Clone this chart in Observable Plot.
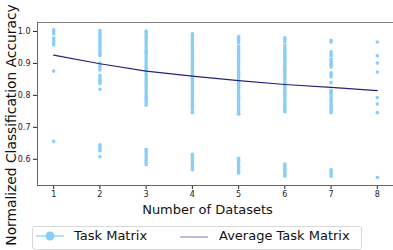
<!DOCTYPE html>
<html><head><meta charset="utf-8">
<script src="https://cdn.jsdelivr.net/npm/d3@7"></script>
<script src="https://cdn.jsdelivr.net/npm/@observablehq/plot@0.6"></script>
<style>
body{margin:0;background:#fff;font-family:"DejaVu Sans",sans-serif;}
#wrap{position:relative;width:393px;height:250px;overflow:hidden;background:#fff;}
#chart svg{display:block;}
.legend{position:absolute;left:32px;top:226px;width:330px;height:24px;border:1px solid #d9d9d9;border-radius:3px;box-sizing:border-box;background:#fff;}
.lg{position:absolute;font-size:13px;color:#111;line-height:14px;top:229px;white-space:nowrap;}
.sym{position:absolute;top:230px;}
</style></head>
<body>
<div id="wrap">
<div id="chart"></div>
<div class="legend"></div>
<svg class="sym" style="left:35px" width="30" height="12"><line x1="1" y1="6" x2="29" y2="6" stroke="#87CEFA" stroke-width="1.3"/><circle cx="15" cy="6" r="4.5" fill="#87CEFA"/></svg>
<span class="lg" id="l1" style="left:74px">Task Matrix</span>
<svg class="sym" style="left:179px" width="30" height="12"><line x1="1" y1="7" x2="29" y2="7" stroke="#8c8cc8" stroke-width="1.2"/></svg>
<span class="lg" id="l2" style="left:219px">Average Task Matrix</span>
</div>
<script>
const datasets = [1, 2, 3, 4, 5, 6, 7, 8];
const xTicks = [1, 2, 3, 4, 5, 6, 7, 8];
const yTicks = [0.6, 0.7, 0.8, 0.9, 1.0];
const seriesNames = ["Task Matrix", "Average Task Matrix"];
const xLabel = "Number of Datasets";
const yLabel = "Normalized Classification Accuracy";

const acc1 = [1.005, 0.999, 0.993, 0.979, 0.972, 0.965, 0.958, 0.876, 0.656];
const acc2 = [1.003, 0.996, 0.990, 0.983, 0.977, 0.971, 0.964, 0.958, 0.951, 0.945, 0.938, 0.932, 0.925, 0.901, 0.894, 0.887, 0.879, 0.863, 0.856, 0.849, 0.843, 0.837, 0.819, 0.645, 0.639, 0.633, 0.627, 0.608];
const acc3 = [1.001, 0.995, 0.989, 0.982, 0.976, 0.969, 0.962, 0.956, 0.948, 0.941, 0.935, 0.928, 0.921, 0.914, 0.908, 0.901, 0.894, 0.887, 0.881, 0.874, 0.866, 0.859, 0.852, 0.846, 0.839, 0.832, 0.825, 0.818, 0.811, 0.804, 0.797, 0.791, 0.784, 0.777, 0.769, 0.631, 0.625, 0.618, 0.611, 0.604, 0.597, 0.590, 0.583];
const acc4 = [0.993, 0.987, 0.980, 0.974, 0.967, 0.961, 0.954, 0.947, 0.941, 0.934, 0.927, 0.921, 0.914, 0.907, 0.901, 0.894, 0.887, 0.880, 0.874, 0.867, 0.860, 0.853, 0.847, 0.840, 0.833, 0.826, 0.820, 0.813, 0.806, 0.799, 0.793, 0.786, 0.779, 0.772, 0.766, 0.762, 0.754, 0.746, 0.616, 0.609, 0.602, 0.595, 0.588, 0.581, 0.574, 0.567];
const acc5 = [0.984, 0.978, 0.971, 0.964, 0.953, 0.947, 0.940, 0.933, 0.927, 0.920, 0.913, 0.906, 0.900, 0.893, 0.886, 0.879, 0.872, 0.866, 0.859, 0.852, 0.845, 0.838, 0.832, 0.825, 0.818, 0.811, 0.804, 0.797, 0.791, 0.784, 0.777, 0.770, 0.763, 0.757, 0.750, 0.744, 0.741, 0.603, 0.596, 0.589, 0.582, 0.575, 0.568, 0.562, 0.557];
const acc6 = [0.980, 0.974, 0.967, 0.956, 0.949, 0.943, 0.936, 0.929, 0.922, 0.916, 0.909, 0.902, 0.895, 0.889, 0.882, 0.875, 0.868, 0.861, 0.855, 0.848, 0.841, 0.834, 0.828, 0.821, 0.814, 0.807, 0.800, 0.794, 0.787, 0.780, 0.773, 0.767, 0.760, 0.754, 0.749, 0.585, 0.578, 0.571, 0.564, 0.557, 0.551, 0.548];
const acc7 = [0.972, 0.967, 0.936, 0.930, 0.923, 0.913, 0.907, 0.900, 0.894, 0.889, 0.871, 0.865, 0.858, 0.840, 0.816, 0.810, 0.804, 0.798, 0.790, 0.785, 0.779, 0.771, 0.765, 0.758, 0.752, 0.746, 0.567, 0.561, 0.554, 0.547];
const acc8 = [0.967, 0.924, 0.901, 0.873, 0.793, 0.773, 0.746, 0.543];
const avgAcc = [0.926, 0.899, 0.876, 0.860, 0.846, 0.834, 0.825, 0.815];

const cols = [acc1, acc2, acc3, acc4, acc5, acc6, acc7, acc8];
const points = [];
cols.forEach((arr, i) => arr.forEach(v => points.push({n: datasets[i], acc: v})));
const avgRows = datasets.map((n, i) => ({n, avg: avgAcc[i]}));

const chart = Plot.plot({
  width: 393, height: 224,
  marginLeft: 37, marginTop: 22, marginRight: 0, marginBottom: 39,
  style: {fontFamily: "DejaVu Sans", fontSize: "8px", color: "#222", background: "#fff", overflow: "visible"},
  x: {domain: [0.65, 8.35], ticks: xTicks, tickFormat: d => String(d), tickSize: 4, tickPadding: 2, label: null},
  y: {domain: [0.518, 1.028], ticks: yTicks, tickFormat: d3.format(".1f"), tickSize: 4, tickPadding: 3, label: null},
  marks: [
    Plot.ruleY([1.028], {stroke: "#808080", strokeWidth: 1}),
    Plot.ruleY([0.518], {stroke: "#666", strokeWidth: 1}),
    Plot.ruleX([0.65], {stroke: "#666", strokeWidth: 1}),
    Plot.dot(points, {x: "n", y: "acc", r: 1.8, fill: "#87CEFA", stroke: null}),
    Plot.line(avgRows, {x: "n", y: "avg", stroke: "#23237a", strokeWidth: 1.2}),
    Plot.text([yLabel], {frameAnchor: "left", rotate: -90, dx: -25.5, dy: 21, fontSize: 13.8, fill: "#111", lineAnchor: "middle", textAnchor: "middle"}),
    Plot.text([xLabel], {frameAnchor: "bottom", dx: -8, dy: 24.5, fontSize: 13, fill: "#111", lineAnchor: "middle", textAnchor: "middle"})
  ]
});
document.getElementById("chart").appendChild(chart);
document.getElementById("l1").textContent = seriesNames[0];
document.getElementById("l2").textContent = seriesNames[1];
</script>
</body></html>
